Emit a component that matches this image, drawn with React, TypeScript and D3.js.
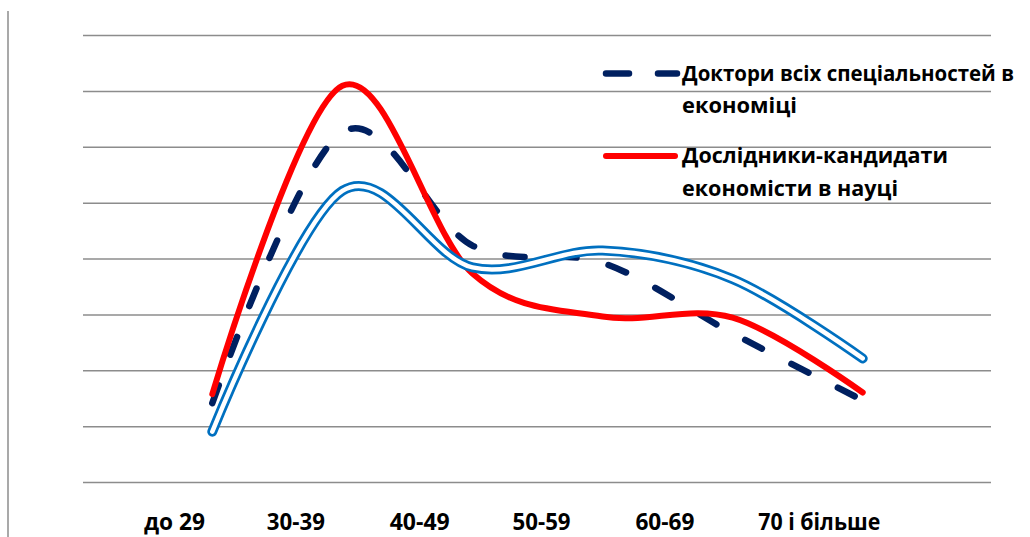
import * as React from 'react';
import * as d3 from 'd3';

const categories = ['до 29', '30-39', '40-49', '50-59', '60-69', '70 і більше'];
const doctors = [1.42, 6.27, 4.24, 3.93, 2.67, 1.47];
const candidates = [1.58, 7.1, 3.74, 2.97, 2.95, 1.61];
const thirdSeries = [0.91, 5.22, 3.85, 4.15, 3.64, 2.22];
const yTicks = [0, 1, 2, 3, 4, 5, 6, 7, 8];
const legendLines = [
  ['Доктори всіх спеціальностей в', 'економіці'],
  ['Дослідники-кандидати', 'економісти в науці'],
];

const W = 1030;
const H = 537;
const FONT = '"Open Sans", "Noto Sans", sans-serif';

// widths of the original (Calibri-like) text runs
const labelWidths = [61, 58, 60, 58, 59, 122];
const legendWidths = [
  [332, 115],
  [266, 216],
];

export default function App() {
  const x = d3.scalePoint<string>().domain(categories).range([212.3, 862.7]);
  const xLabel = d3.scalePoint<string>().domain(categories).range([144, 758.3]);
  const y = d3.scaleLinear().domain([0, 8]).range([482.5, 35.5]);

  const line = d3
    .line<number>()
    .x((_, i) => x(categories[i]) as number)
    .y((d) => y(d))
    .curve(d3.curveCardinal.tension(0));

  return (
    <svg
      width={W}
      height={H}
      viewBox={`0 0 ${W} ${H}`}
      style={{ position: 'absolute', left: 0, top: 0, background: '#fff' }}
    >
      <line x1={8} x2={8} y1={11} y2={H} stroke="#8c8c8c" strokeWidth={1.5} />

      {yTicks.map((t) => (
        <line
          key={t}
          x1={83}
          x2={991}
          y1={y(t)}
          y2={y(t)}
          stroke="#8c8c8c"
          strokeWidth={1.5}
        />
      ))}

      {/* series */}
      <path
        d={line(doctors) || ''}
        fill="none"
        stroke="#002060"
        strokeWidth={6.5}
        strokeDasharray="19 33"
        strokeLinecap="round"
        strokeLinejoin="round"
      />
      <path
        d={line(candidates) || ''}
        fill="none"
        stroke="#ff0000"
        strokeWidth={6}
        strokeLinecap="round"
        strokeLinejoin="round"
      />
      <path
        d={line(thirdSeries) || ''}
        fill="none"
        stroke="#0070c0"
        strokeWidth={10}
        strokeLinecap="round"
        strokeLinejoin="round"
      />
      <path
        d={line(thirdSeries) || ''}
        fill="none"
        stroke="#fff"
        strokeWidth={4.5}
        strokeLinecap="round"
        strokeLinejoin="round"
      />

      {/* x labels */}
      {categories.map((c, i) => (
        <text
          key={c}
          x={xLabel(c)}
          y={530}
          fontFamily={FONT}
          fontWeight={700}
          fontSize={23}
          fill="#000"
          textLength={labelWidths[i]}
          lengthAdjust="spacingAndGlyphs"
        >
          {c}
        </text>
      ))}

      {/* legend */}
      <line x1={606} x2={677} y1={73.5} y2={73.5} stroke="#002060" strokeWidth={6.5} strokeLinecap="round" strokeDasharray="23 29" />
      <line x1={606} x2={675} y1={156} y2={156} stroke="#ff0000" strokeWidth={6} strokeLinecap="round" />
      {legendLines.map((lines, k) =>
        lines.map((t, j) => (
          <text
            key={`${k}-${j}`}
            x={682}
            y={[80.5, 163][k] + j * 32.5}
            fontFamily={FONT}
            fontWeight={700}
            fontSize={k === 0 && j === 0 ? 21 : 22}
            fill="#000"
            textLength={legendWidths[k][j]}
            lengthAdjust="spacingAndGlyphs"
          >
            {t}
          </text>
        ))
      )}
    </svg>
  );
}
